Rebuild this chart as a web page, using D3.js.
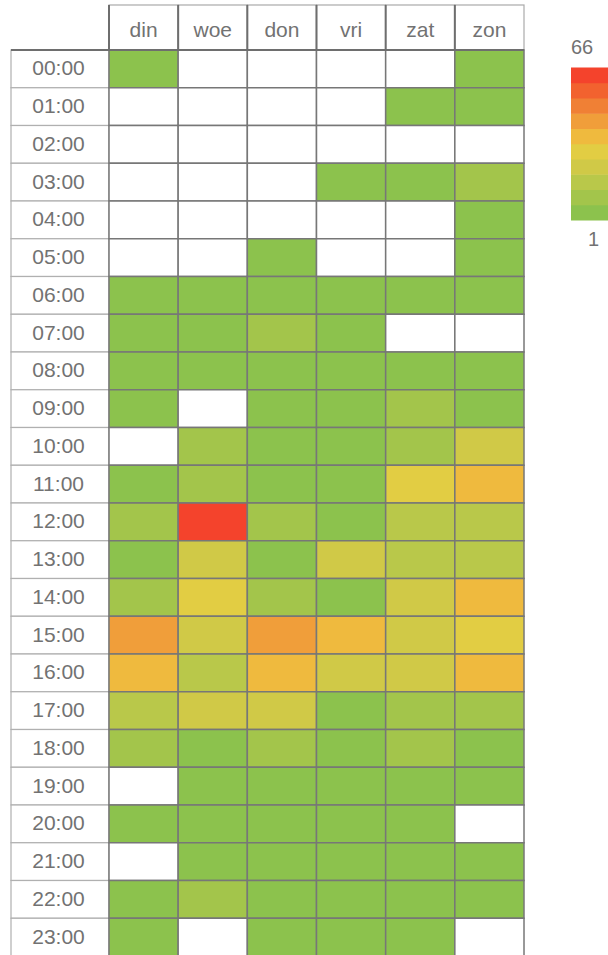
<!DOCTYPE html>
<html>
<head>
<meta charset="utf-8">
<script src="https://cdn.jsdelivr.net/npm/d3@7"></script>
<style>
  body { margin: 0; background: #fff; }
  text { font-family: "Liberation Sans", Arial, sans-serif; fill: #727272; }
</style>
</head>
<body>
<svg id="chart" width="608" height="955"></svg>
<script>
const days = ['din', 'woe', 'don', 'vri', 'zat', 'zon']
const hours = d3.range(24).map(h => (h < 10 ? '0' : '') + h + ':00')

// one array per day, value per hour (null = no data)
const din = [3, null, null, null, null, null, 2, 3, 4, 2, null, 5, 11, 6, 12, 43, 37, 17, 10, null, 4, null, 3, 2]
const woe = [null, null, null, null, null, null, 3, 4, 5, null, 12, 10, 66, 24, 30, 23, 18, 25, 5, 4, 3, 2, 9, null]
const don = [null, null, null, null, null, 2, 4, 9, 3, 5, 6, 4, 12, 6, 11, 44, 38, 24, 12, 3, 4, 3, 2, 2]
const vri = [null, null, null, 2, null, null, 3, 5, 4, 6, 5, 6, 7, 22, 7, 36, 23, 6, 5, 4, 3, 2, 3, 2]
const zat = [null, 2, null, 1, null, null, 3, null, 5, 9, 12, 31, 19, 17, 22, 25, 22, 10, 12, 5, 2, 3, 4, 1]
const zon = [2, 3, null, 8, 1, 2, 4, null, 5, 6, 24, 36, 18, 16, 38, 29, 37, 11, 7, 6, null, 4, 3, null]

const series = [din, woe, don, vri, zat, zon]
const colors = ['#8cc24d', '#a3c54b', '#b9c84a', '#d0c947', '#e2cd43',
                '#efba3e', '#f09e3a', '#f08035', '#f2622f', '#f4432c']

const cells = []
series.forEach((vals, i) => {
  vals.forEach((v, j) => cells.push({ day: days[i], hour: hours[j], value: v }))
})

const ext = d3.extent(cells.filter(d => d.value != null), d => d.value)

const x = d3.scaleBand().domain(days).range([109, 524])
const y = d3.scaleBand().domain(hours).range([50, 50 + 24 * 37.75])
const color = d3.scaleQuantize().domain(ext).range(colors)

const svg = d3.select('#chart')

// header
const head = svg.append('g')
head.selectAll('rect')
  .data(days)
  .enter()
  .append('rect')
  .attr('x', d => x(d))
  .attr('y', 5)
  .attr('width', x.bandwidth())
  .attr('height', 45)
  .attr('fill', '#fff')
  .attr('stroke', '#aaa')
  .attr('stroke-width', 1.2)
head.selectAll('line.l')
  .data(days)
  .enter()
  .append('line')
  .attr('x1', d => x(d)).attr('x2', d => x(d))
  .attr('y1', 5).attr('y2', 50)
  .attr('stroke', '#6e6e6e')
  .attr('stroke-width', 2)
head.selectAll('text')
  .data(days)
  .enter()
  .append('text')
  .attr('x', d => x(d) + x.bandwidth() / 2)
  .attr('y', 36.5)
  .attr('text-anchor', 'middle')
  .style('font-size', '21px')
  .text(d => d)

// row labels
const lab = svg.append('g')
lab.selectAll('rect')
  .data(hours)
  .enter()
  .append('rect')
  .attr('x', 11)
  .attr('y', d => y(d))
  .attr('width', 98)
  .attr('height', y.bandwidth())
  .attr('fill', '#fff')
  .attr('stroke', '#b0b0b0')
  .attr('stroke-width', 1.2)
lab.selectAll('text')
  .data(hours)
  .enter()
  .append('text')
  .attr('x', 58.5)
  .attr('y', d => y(d) + y.bandwidth() / 2 + 6.5)
  .attr('text-anchor', 'middle')
  .style('font-size', '21px')
  .text(d => d)

// cells
svg.append('g')
  .selectAll('rect')
  .data(cells)
  .enter()
  .append('rect')
  .attr('x', d => x(d.day))
  .attr('y', d => y(d.hour))
  .attr('width', x.bandwidth())
  .attr('height', y.bandwidth())
  .attr('fill', d => d.value == null ? '#fff' : color(d.value))
  .attr('stroke', '#777')
  .attr('stroke-width', 1.5)

svg.append('line')
  .attr('x1', 11).attr('x2', 524)
  .attr('y1', 50).attr('y2', 50)
  .attr('stroke', '#6e6e6e')
  .attr('stroke-width', 2)

// legend
const ly = d3.scaleBand().domain(d3.range(colors.length).reverse()).range([67.5, 220])
const legend = svg.append('g')
legend.selectAll('rect')
  .data(d3.range(colors.length))
  .enter()
  .append('rect')
  .attr('x', 571)
  .attr('y', d => ly(d))
  .attr('width', 40)
  .attr('height', ly.bandwidth() + 0.5)
  .attr('fill', d => colors[d])
legend.append('text')
  .attr('x', 582)
  .attr('y', 53.5)
  .attr('text-anchor', 'middle')
  .style('font-size', '20px')
  .text(ext[1])
legend.append('text')
  .attr('x', 593.5)
  .attr('y', 245.5)
  .attr('text-anchor', 'middle')
  .style('font-size', '20px')
  .text(ext[0])
</script>
</body>
</html>
